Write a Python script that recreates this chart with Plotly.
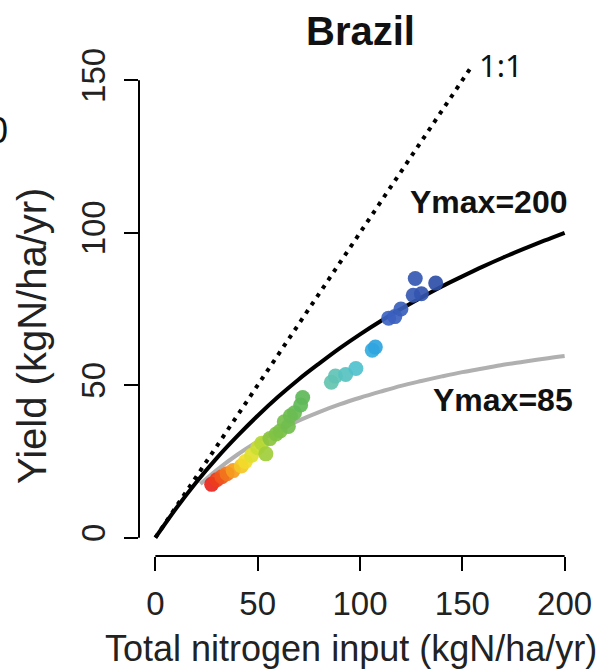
import plotly.graph_objects as go

# ---- data ----
obs_n = [27.5, 30, 32.5, 35, 38, 42, 44, 47, 50, 52, 54, 56, 59, 61, 63, 65, 66, 68, 71, 72,
         86, 88, 93, 98, 106, 107.5, 114, 117, 120, 126, 127, 130, 137]
obs_y = [17.5, 19, 20, 21, 22, 23.5, 25, 27, 29.5, 31, 27.5, 32.5, 34, 35, 38, 36.5, 40, 41, 43.5, 46,
         51, 53, 53.5, 55.5, 61.5, 62.5, 72, 72.5, 75, 79.5, 85, 80, 83.5]

curve200_n = [0, 10, 20, 30, 40, 50, 60, 70, 80, 90, 100, 110, 120, 130, 140, 150, 160, 170, 180, 190, 200]
curve200_y = [0, 9.5, 18.2, 26.1, 33.3, 40, 46.2, 51.9, 57.1, 62.1, 66.7, 71, 75, 78.8, 82.4, 85.7,
              88.9, 91.9, 94.7, 97.4, 100]

curve85_n = [22, 30, 40, 50, 60, 70, 80, 90, 100, 110, 120, 130, 140, 150, 160, 170, 180, 190, 200]
curve85_y = [17.6, 22.2, 27.2, 31.5, 35.2, 38.4, 41.2, 43.7, 45.9, 47.9, 49.8, 51.4, 52.9, 54.3,
             55.5, 56.7, 57.7, 58.7, 59.6]

one_to_one_n = [0, 155]
one_to_one_y = [0, 155]

x_ticks = [0, 50, 100, 150, 200]
y_ticks = [0, 50, 100, 150]

FONT = "Liberation Sans, Arial, sans-serif"

rainbow = [
    [0.0, "#e8251c"], [0.055, "#f0601c"], [0.10, "#f7a21e"], [0.155, "#f2e02a"],
    [0.21, "#c7dd33"], [0.264, "#86c440"], [0.41, "#5eb95a"], [0.536, "#63c4b0"],
    [0.66, "#4cc0d0"], [0.727, "#2ea8e0"], [0.79, "#3d63c2"], [1.0, "#2f4fa8"],
]

fig = go.Figure()

fig.add_trace(go.Scatter(x=one_to_one_n, y=one_to_one_y, mode="lines",
                         line=dict(color="black", width=4, dash="4px,6px"),
                         showlegend=False, hoverinfo="skip"))
fig.add_trace(go.Scatter(x=curve85_n, y=curve85_y, mode="lines", line_shape="spline",
                         line=dict(color="#b0b0b0", width=4),
                         showlegend=False, hoverinfo="skip"))
fig.add_trace(go.Scatter(x=curve200_n, y=curve200_y, mode="lines", line_shape="spline",
                         line=dict(color="black", width=4),
                         showlegend=False, hoverinfo="skip"))
fig.add_trace(go.Scatter(x=obs_n, y=obs_y, mode="markers",
                         marker=dict(size=15, color=obs_n, colorscale=rainbow,
                                     cmin=min(obs_n), cmax=max(obs_n), opacity=0.92,
                                     line=dict(width=0)),
                         showlegend=False))

# R-style axis lines spanning only the tick range
fig.add_shape(type="line", xref="paper", yref="y", x0=0, x1=0, y0=0, y1=150,
              line=dict(color="black", width=2))
fig.add_shape(type="line", xref="x", yref="paper", x0=0, x1=200, y0=0, y1=0,
              line=dict(color="black", width=2))

anns = [
    dict(text="<b>Brazil</b>", xref="paper", yref="paper", x=0.5, y=1.063,
         xanchor="center", yanchor="middle", showarrow=False,
         font=dict(family=FONT, size=40, color="#111")),
    dict(text="1:1", xref="x", yref="y", x=157, y=155, xanchor="left", yanchor="middle",
         showarrow=False, font=dict(family="Noto Sans, Open Sans, sans-serif", size=31, color="#111")),
    dict(text="<b>Ymax=200</b>", xref="x", yref="y", x=163, y=110, xanchor="center", yanchor="middle",
         showarrow=False, font=dict(family=FONT, size=32, color="#111")),
    dict(text="<b>Ymax=85</b>", xref="x", yref="y", x=170, y=45, xanchor="center", yanchor="middle",
         showarrow=False, font=dict(family=FONT, size=32, color="#111")),
    dict(text="Total nitrogen input (kgN/ha/yr)", xref="paper", yref="paper",
         x=(353 - 139) / 446, y=(556 - 648) / 494, xanchor="center", yanchor="middle",
         showarrow=False, font=dict(family=FONT, size=36, color="#222")),
    dict(text="Yield (kgN/ha/yr)", xref="paper", yref="paper", textangle=-90,
         x=(31 - 139) / 446, y=(556 - 336) / 494, xanchor="center", yanchor="middle",
         showarrow=False, font=dict(family=FONT, size=40, color="#222")),
    dict(text="0", xref="paper", yref="paper", x=(9 - 139) / 446, y=(556 - 130) / 494,
         xanchor="right", yanchor="middle", showarrow=False,
         font=dict(family=FONT, size=36, color="#111")),
]

fig.update_layout(
    width=604, height=670,
    margin=dict(l=139, r=19, t=62, b=114),
    paper_bgcolor="white", plot_bgcolor="white",
    annotations=anns,
    xaxis=dict(range=[-8, 208], tickvals=x_ticks, ticktext=[str(v) for v in x_ticks],
               ticks="outside", ticklen=14, tickwidth=2, tickcolor="black",
               showline=False, showgrid=False, zeroline=False,
               tickfont=dict(family=FONT, size=33, color="#222"), ticklabelstandoff=4),
    yaxis=dict(range=[-6, 156], tickvals=y_ticks, ticktext=[str(v) for v in y_ticks],
               ticks="outside", ticklen=14, tickwidth=2, tickcolor="black",
               showline=False, showgrid=False, zeroline=False, tickangle=-90,
               tickfont=dict(family=FONT, size=33, color="#222"), ticklabelstandoff=6),
)

fig.write_html("out.html")
